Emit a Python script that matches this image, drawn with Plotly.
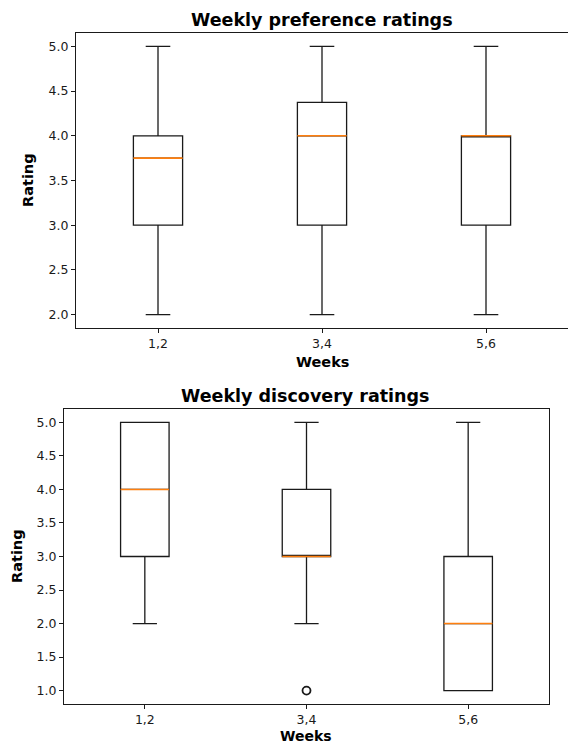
import plotly.graph_objects as go

# Week groups shown on both charts
weeks = ["1,2", "3,4", "5,6"]
positions = [1, 2, 3]

# Weekly preference ratings: box statistics per week group
pref_low = [2.0, 2.0, 2.0]
pref_q1 = [3.0, 3.0, 3.0]
pref_median = [3.75, 4.0, 4.0]
pref_q3 = [4.0, 4.375, 4.0]
pref_high = [5.0, 5.0, 5.0]
pref_outliers = [[], [], []]

# Weekly discovery ratings: box statistics per week group
disc_low = [2.0, 2.0, 1.0]
disc_q1 = [3.0, 3.0, 1.0]
disc_median = [4.0, 3.0, 2.0]
disc_q3 = [5.0, 4.0, 3.0]
disc_high = [5.0, 5.0, 5.0]
disc_outliers = [[], [1.0], []]

BOX_WIDTH = 0.3
FONT = "DejaVu Sans"
INK = "#1a1a1a"
MEDIAN_COLOR = "#ff7f0e"

fig = go.Figure()


def add_panel(xa, ya, low, q1, med, q3, high, outliers):
    fig.add_trace(go.Box(
        x=positions, q1=q1, median=med, q3=q3,
        lowerfence=low, upperfence=high,
        width=BOX_WIDTH, whiskerwidth=0.5,
        fillcolor="rgba(255,255,255,0)",
        line=dict(color=INK, width=1.3),
        boxpoints=False, hoverinfo="skip", showlegend=False,
        xaxis=xa, yaxis=ya,
    ))
    # orange median bars across each box
    mx, my = [], []
    for p, m in zip(positions, med):
        mx += [p - BOX_WIDTH / 2, p + BOX_WIDTH / 2, None]
        my += [m, m, None]
    fig.add_trace(go.Scatter(
        x=mx, y=my, mode="lines",
        line=dict(color=MEDIAN_COLOR, width=1.6),
        hoverinfo="skip", showlegend=False, xaxis=xa, yaxis=ya,
    ))
    # fliers
    ox, oy = [], []
    for p, vals in zip(positions, outliers):
        for v in vals:
            ox.append(p)
            oy.append(v)
    if ox:
        fig.add_trace(go.Scatter(
            x=ox, y=oy, mode="markers",
            marker=dict(symbol="circle-open", size=8, color=INK,
                        line=dict(width=1.8, color=INK)),
            hoverinfo="skip", showlegend=False, xaxis=xa, yaxis=ya,
        ))


add_panel("x", "y", pref_low, pref_q1, pref_median, pref_q3, pref_high, pref_outliers)
add_panel("x2", "y2", disc_low, disc_q1, disc_median, disc_q3, disc_high, disc_outliers)

W, H = 568, 744
tick_font = dict(family=FONT, size=12.5, color=INK)

common_x = dict(
    range=[0.5, 3.5], tickvals=positions, ticktext=weeks,
    showgrid=False, zeroline=False, showline=True, linecolor=INK, linewidth=1.2,
    ticks="outside", ticklen=4, tickwidth=1, tickcolor=INK, tickfont=tick_font,
)
common_y = dict(
    showgrid=False, zeroline=False, showline=True, linecolor=INK, linewidth=1.2,
    ticks="outside", ticklen=4, tickwidth=1, tickcolor=INK, tickfont=tick_font,
    tickformat=".1f",
)

fig.update_layout(
    width=W, height=H,
    margin=dict(l=0, r=0, t=0, b=0),
    paper_bgcolor="white", plot_bgcolor="white",
    xaxis=dict(domain=[76 / W, 1.0], anchor="y", mirror=True, **common_x),
    yaxis=dict(domain=[1 - 328 / H, 1 - 33 / H], anchor="x", range=[1.85, 5.15],
               tickvals=[2.0, 2.5, 3.0, 3.5, 4.0, 4.5, 5.0], mirror=False, **common_y),
    xaxis2=dict(domain=[64 / W, 549 / W], anchor="y2", mirror=True, **common_x),
    yaxis2=dict(domain=[1 - 704 / H, 1 - 409 / H], anchor="x2", range=[0.8, 5.2],
                tickvals=[1.0, 1.5, 2.0, 2.5, 3.0, 3.5, 4.0, 4.5, 5.0], mirror=True, **common_y),
)


def label(text, x, y, size, angle=0):
    fig.add_annotation(
        text=f"<b>{text}</b>", x=x / W, y=1 - y / H, xref="paper", yref="paper",
        showarrow=False, textangle=angle, xanchor="center", yanchor="middle",
        font=dict(family=FONT, size=size, color="black"),
    )


label("Weekly preference ratings", 322, 20, 17.5)
label("Weeks", 322, 362, 14.5)
label("Rating", 28, 180, 14.5, -90)
label("Weekly discovery ratings", 306, 396, 17.5)
label("Weeks", 306, 735.5, 14)
label("Rating", 17, 556, 14.5, -90)

fig.write_html("out.html")
